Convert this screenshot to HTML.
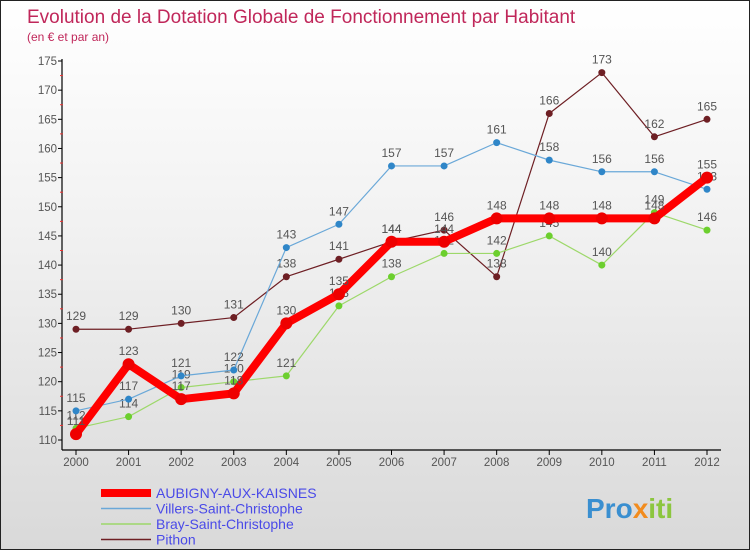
<!DOCTYPE html>
<html><head><meta charset="utf-8"><style>
body{margin:0;width:750px;height:550px;overflow:hidden;font-family:"Liberation Sans",sans-serif}
#wrap{position:relative;width:748px;height:548px;border:1px solid #222;background:linear-gradient(#fff 0%,#f2f2f2 40%,#d9d9d9 100%)}
</style></head><body>
<div id="wrap">
<svg id="chart" width="748" height="548" style="position:absolute;left:0;top:0">
<text x="26" y="22" font-size="19" fill="#c0275a">Evolution de la Dotation Globale de Fonctionnement par Habitant</text>
<text x="26" y="40" font-size="12" fill="#c0275a">(en € et par an)</text>
<g id="axes"></g><g id="series"></g><g id="legend"></g>
<text x="585" y="517" font-size="28" font-weight="bold" fill="#3a8fd0">Pro<tspan fill="#f28c1e">x</tspan><tspan fill="#8cc63f">iti</tspan></text>
</svg>
</div>
<script>
const years=[2000,2001,2002,2003,2004,2005,2006,2007,2008,2009,2010,2011,2012];
const yTicks=[110,115,120,125,130,135,140,145,150,155,160,165,170,175];
const seriesNames=["AUBIGNY-AUX-KAISNES","Villers-Saint-Christophe","Bray-Saint-Christophe","Pithon"];
const aubigny=[111,123,117,118,130,135,144,144,148,148,148,148,155];
const villers=[115,117,121,122,143,147,157,157,161,158,156,156,153];
const bray=[112,114,119,120,121,133,138,142,142,145,140,149,146];
const pithon=[129,129,130,131,138,141,144,146,138,166,173,162,165];
const NS="http://www.w3.org/2000/svg";
const x=i=>75+i*(706-75)/(years.length-1);
const y=v=>439-(v-110)*(439-60)/65;
function mk(tag,attrs,parent){const e=document.createElementNS(NS,tag);for(const k in attrs)e.setAttribute(k,attrs[k]);parent.appendChild(e);return e;}
const ax=document.getElementById('axes');
let a=mk('line',{x1:61,y1:58,x2:61,y2:449,stroke:'#000','stroke-width':1.2},ax);


a=mk('line',{x1:61,y1:449,x2:720,y2:449,stroke:'#000','stroke-width':1.2},ax);


yTicks.forEach(v=>{
 mk('line',{x1:57,x2:61,y1:y(v),y2:y(v),stroke:'#000'},ax);
 if(v<175)mk('line',{x1:59,x2:62,y1:y(v+2.5),y2:y(v+2.5),stroke:'#e33'},ax);
 const t=mk('text',{x:56,y:y(v)+4,'font-size':11.5,fill:'#555','text-anchor':'end'},ax);
 t.textContent=v;
 
 
});
years.forEach((yr,i)=>{
 mk('line',{x1:x(i),x2:x(i),y1:449,y2:454,stroke:'#000'},ax);
 const t=mk('text',{x:x(i),y:465,'font-size':11.5,fill:'#555','text-anchor':'middle'},ax);
 t.textContent=yr;
 
 
});
const sg=document.getElementById('series');
const defs=[[pithon,'#6e1f24','#6e1f24',1.2,3.5,'pithon'],[bray,'#9dd86a','#6ccf2e',1.2,3.5,'bray'],[villers,'#6aa8d8','#2f86c8',1.2,3.5,'villers'],[aubigny,'#ff0000','#ee0000',8,6,'aubigny']];
defs.forEach(([d,lc,pc,w,r,n])=>{
 const g=mk('g',{},sg);
 
 
 const p=mk('polyline',{points:d.map((v,i)=>x(i)+','+y(v)).join(' '),fill:'none',stroke:lc,'stroke-width':w,'stroke-linejoin':'round'},g);
 
 
 d.forEach((v,i)=>{
  const c=mk('circle',{cx:x(i),cy:y(v),r:r,fill:pc},g);
  
  
  const t=mk('text',{x:x(i),y:y(v)-9,'font-size':12,fill:'#555','text-anchor':'middle'},g);
  t.textContent=v;
  
  
 });
});
const lg=document.getElementById('legend');
const lcol=['#ff0000','#6aa8d8','#9dd86a','#6e1f24'];const lw=[8,1.5,1.5,1.5];
seriesNames.forEach((nm,i)=>{
 const yy=492+i*15.5;
 const l=mk('line',{x1:100,x2:150,y1:yy,y2:yy,stroke:lcol[i],'stroke-width':lw[i]},lg);
 
 
 const t=mk('text',{x:155,y:yy+5,'font-size':14,fill:'#4a4ae8'},lg);
 t.textContent=nm;
 
 
});
</script>
</body></html>
